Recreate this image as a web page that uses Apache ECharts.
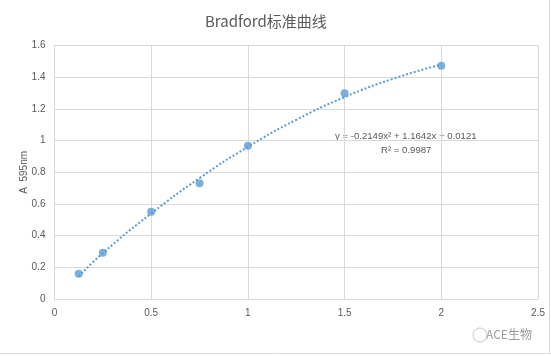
<!DOCTYPE html>
<html><head><meta charset="utf-8">
<script src="https://cdn.jsdelivr.net/npm/echarts@6/dist/echarts.min.js"></script>
<style>html,body{margin:0;padding:0;background:#fff}#c{width:551px;height:356px}</style>
</head><body><div id="c"></div>
<script>
// measured points
const concentration = [0.125, 0.25, 0.5, 0.75, 1, 1.5, 2];
const absorbance = [0.16, 0.292, 0.551, 0.731, 0.968, 1.30, 1.474];
// dotted trendline, read at sample x positions
const trendX = [0.125, 0.25, 0.5, 0.75, 1, 1.25, 1.5, 1.75, 2];
const trendY = [0.142, 0.29, 0.54, 0.764, 0.961, 1.132, 1.275, 1.391, 1.481];
const xTicks = [0, 0.5, 1, 1.5, 2, 2.5];
const yTicks = [0, 0.2, 0.4, 0.6, 0.8, 1, 1.2, 1.4, 1.6];
const titleText = 'Bradford标准曲线';
const yAxisName = 'A  595nm';
const eqText = 'y = -0.2149x² + 1.1642x + 0.0121';
const r2Text = 'R² = 0.9987';
const watermark = 'ACE生物';

const font = "'Liberation Sans', 'Noto Sans CJK SC', sans-serif";
const labelColor = '#595959';
const blue = '#5B9BD5';

const chart = echarts.init(document.getElementById('c'), null, {renderer: 'canvas'});
chart.setOption({
  animation: false,
  backgroundColor: '#fff',
  title: {
    text: titleText, left: 200, top: 9,
    textStyle: {fontFamily: "'Noto Sans CJK SC', sans-serif", fontSize: 15, fontWeight: 'normal', color: labelColor}
  },
  grid: {left: 54.5, right: 13, top: 45.7, bottom: 57},
  xAxis: {
    type: 'value', min: xTicks[0], max: xTicks[xTicks.length - 1], interval: 0.5,
    axisLine: {show: true, lineStyle: {color: '#d9d9d9', width: 1}},
    axisTick: {show: false},
    axisLabel: {color: labelColor, fontFamily: font, fontSize: 10, margin: 9},
    splitLine: {show: true, lineStyle: {color: '#d9d9d9', width: 1}}
  },
  yAxis: {
    type: 'value', min: yTicks[0], max: yTicks[yTicks.length - 1], interval: 0.2,
    name: yAxisName, nameLocation: 'middle', nameGap: 25, nameRotate: 90,
    nameMoveOverlap: false,
    nameTextStyle: {color: labelColor, fontFamily: font, fontSize: 10},
    axisLine: {show: true, lineStyle: {color: '#d9d9d9', width: 1}},
    axisTick: {show: false},
    axisLabel: {color: labelColor, fontFamily: font, fontSize: 10, margin: 9},
    splitLine: {show: true, lineStyle: {color: '#d9d9d9', width: 1}}
  },
  series: [
    {
      type: 'line', data: trendX.map((x, i) => [x, trendY[i]]),
      smooth: 0.5, symbol: 'none', silent: true, z: 1,
      lineStyle: {color: blue, width: 2, type: [2, 2]}
    },
    {
      type: 'scatter', data: concentration.map((x, i) => [x, absorbance[i]]),
      symbol: 'circle', symbolSize: 8, z: 3,
      itemStyle: {color: blue}
    }
  ],
  graphic: [
    {type: 'text', left: 335, top: 131, style: {text: eqText, fill: labelColor, font: "9.6px 'Liberation Sans', sans-serif"}},
    {type: 'text', left: 381, top: 145, style: {text: r2Text, fill: labelColor, font: "9.6px 'Liberation Sans', sans-serif"}},
    {type: 'text', left: 486, top: 328, style: {text: watermark, fill: '#9a9a9a', font: "12px 'Noto Sans CJK SC', sans-serif"}},
    {type: 'circle', shape: {cx: 480, cy: 335, r: 7}, style: {fill: 'none', stroke: '#c8c8c8', lineWidth: 1}},
    {type: 'line', shape: {x1: 0, y1: 353.5, x2: 551, y2: 353.5}, style: {stroke: '#d9d9d9', lineWidth: 1}},
    {type: 'line', shape: {x1: 549.5, y1: 0, x2: 549.5, y2: 353}, style: {stroke: '#d9d9d9', lineWidth: 1}}
  ]
});
</script></body></html>
